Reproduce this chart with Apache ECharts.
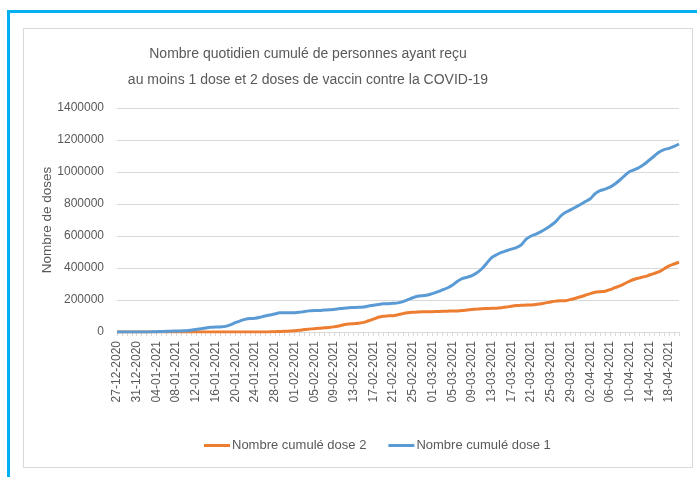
<!DOCTYPE html>
<html lang="fr">
<head>
    <meta charset="UTF-8">
    <title>Nombre cumulé de personnes vaccinées</title>
    <script src="https://cdn.jsdelivr.net/npm/echarts@6.0.0/dist/echarts.min.js"></script>
    <style>
        body, html {
            margin: 0;
            padding: 0;
            width: 100%;
            height: 100%;
            background-color: #ffffff;
        }
        #chart {
            width: 697px;
            height: 477px;
        }
    </style>
</head>
<body>
    <div id="chart"></div>

    <script>
        // dates : du 27-12-2020, un point par jour
        const startDate = new Date(2020, 11, 27);
        const nbDays = 115;

        const dose2 = [
            0, 0, 0, 0, 0, 0, 0, 0, 0, 0,
            0, 0, 0, 0, 0, 0, 0, 0, 0, 0,
            0, 0, 0, 0, 0, 0, 0, 0, 0, 0,
            0, 1000, 2000, 3000, 4000, 6000, 8000, 11000, 15000, 18000,
            21000, 24000, 26000, 28000, 32000, 38000, 45000, 50000, 52000, 54000,
            60000, 70000, 80000, 92000, 99000, 101000, 102000, 108000, 115000, 120000,
            123000, 125000, 126000, 126000, 127000, 128000, 129000, 130000, 131000, 132000,
            134000, 137000, 140000, 143000, 146000, 147000, 148000, 149000, 152000, 156000,
            161000, 165000, 167000, 168000, 169000, 172000, 177000, 182000, 188000, 193000,
            195000, 196000, 203000, 211000, 220000, 230000, 240000, 248000, 252000, 255000,
            265000, 277000, 288000, 303000, 318000, 330000, 338000, 346000, 356000, 366000,
            377000, 395000, 413000, 425000, 436000
        ];

        const dose1 = [
            0, 0, 0, 0, 0, 0, 500, 1000, 2000, 3000,
            4000, 5000, 6000, 7000, 8000, 11000, 15000, 20000, 25000, 29000,
            31000, 32000, 35000, 45000, 58000, 70000, 79000, 84000, 86000, 92000,
            100000, 106000, 112000, 120000, 121000, 121000, 121000, 123000, 128000, 132000,
            134000, 135000, 137000, 139000, 141000, 145000, 149000, 152000, 153000, 154000,
            156000, 162000, 167000, 172000, 176000, 177000, 179000, 182000, 190000, 202000,
            214000, 223000, 227000, 231000, 240000, 251000, 263000, 275000, 292000, 316000,
            334000, 342000, 352000, 370000, 395000, 430000, 465000, 483000, 497000, 508000,
            518000, 527000, 545000, 580000, 600000, 612000, 627000, 645000, 666000, 690000,
            725000, 748000, 763000, 780000, 797000, 815000, 833000, 865000, 884000, 893000,
            905000, 925000, 950000, 978000, 1003000, 1015000, 1030000, 1050000, 1075000, 1100000,
            1125000, 1140000, 1148000, 1160000, 1175000
        ];

        const yTicks = [0, 200000, 400000, 600000, 800000, 1000000, 1200000, 1400000];

        function pad(n) {
            return n < 10 ? '0' + n : '' + n;
        }

        const dates = [];
        for (let i = 0; i < nbDays; i++) {
            const d = new Date(startDate.getFullYear(), startDate.getMonth(), startDate.getDate() + i);
            dates.push(pad(d.getDate()) + '-' + pad(d.getMonth() + 1) + '-' + d.getFullYear());
        }

        const fontFamily = '"Liberation Sans", Arial, sans-serif';
        const grey = '#595959';

        const chart = echarts.init(document.getElementById('chart'), null, { renderer: 'canvas' });

        const option = {
            animation: false,
            backgroundColor: '#ffffff',
            textStyle: { fontFamily: fontFamily },
            title: {
                text: 'Nombre quotidien cumulé de personnes ayant reçu\nau moins 1 dose et 2 doses de vaccin contre la COVID-19',
                left: 303,
                top: 36,
                textAlign: 'center',
                textStyle: {
                    color: grey,
                    fontFamily: fontFamily,
                    fontSize: 14,
                    fontWeight: 'normal',
                    lineHeight: 26
                }
            },
            graphic: [
                // cadre bleu du document
                { type: 'rect', shape: { x: 7, y: 10, width: 700, height: 3 }, style: { fill: '#00b0f0' }, silent: true },
                { type: 'rect', shape: { x: 7, y: 10, width: 3, height: 470 }, style: { fill: '#00b0f0' }, silent: true },
                // cadre gris du graphique
                { type: 'rect', shape: { x: 23.5, y: 28.5, width: 669, height: 439 }, style: { fill: 'none', stroke: '#d9d9d9', lineWidth: 1 }, silent: true }
            ],
            legend: {
                data: ['Nombre cumulé dose 2', 'Nombre cumulé dose 1'],
                left: 199,
                top: 434,
                icon: 'rect',
                itemWidth: 26,
                itemHeight: 3,
                itemGap: 22,
                textStyle: {
                    color: grey,
                    fontFamily: fontFamily,
                    fontSize: 13,
                    padding: [0, 0, 0, -3]
                }
            },
            grid: {
                left: 117,
                right: 18,
                top: 108,
                bottom: 145,
                containLabel: false
            },
            xAxis: {
                type: 'category',
                data: dates,
                boundaryGap: false,
                axisLine: { lineStyle: { color: '#d9d9d9', width: 1 } },
                axisTick: {
                    show: true,
                    interval: 0,
                    length: 4,
                    lineStyle: { color: '#d9d9d9' }
                },
                axisLabel: {
                    interval: 3,
                    rotate: 90,
                    margin: 9,
                    color: grey,
                    fontSize: 12,
                    fontFamily: fontFamily
                },
                splitLine: { show: false }
            },
            yAxis: {
                type: 'value',
                min: yTicks[0],
                max: yTicks[yTicks.length - 1],
                interval: 200000,
                name: 'Nombre de doses',
                nameLocation: 'middle',
                nameGap: 63,
                nameMoveOverlap: false,
                nameTextStyle: {
                    color: grey,
                    fontSize: 13.5,
                    fontFamily: fontFamily
                },
                axisLine: { show: false },
                axisTick: { show: false },
                axisLabel: {
                    color: grey,
                    fontSize: 12,
                    margin: 13,
                    fontFamily: fontFamily,
                    formatter: function (v) { return String(v); }
                },
                splitLine: { lineStyle: { color: '#d9d9d9', width: 1 } }
            },
            series: [
                {
                    name: 'Nombre cumulé dose 2',
                    type: 'line',
                    data: dose2,
                    smooth: 0.3,
                    showSymbol: false,
                    lineStyle: { color: '#ed7d31', width: 3 },
                    itemStyle: { color: '#ed7d31' }
                },
                {
                    name: 'Nombre cumulé dose 1',
                    type: 'line',
                    data: dose1,
                    smooth: 0.3,
                    showSymbol: false,
                    lineStyle: { color: '#5b9bd5', width: 3 },
                    itemStyle: { color: '#5b9bd5' }
                }
            ]
        };

        chart.setOption(option);
    </script>
</body>
</html>
